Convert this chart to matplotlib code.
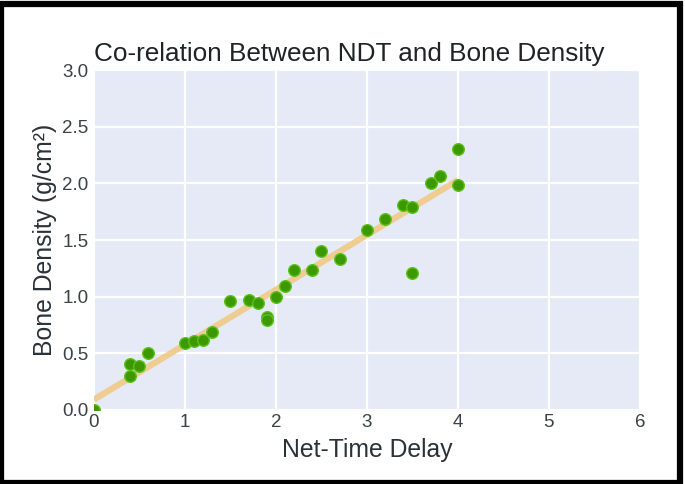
import numpy as np
import matplotlib
matplotlib.use("Agg")
import matplotlib.pyplot as plt
from matplotlib.patches import Rectangle

ndt = [0.0, 0.4, 0.4, 0.5, 0.6, 1.0, 1.1, 1.2, 1.3, 1.5, 1.7, 1.8, 1.9, 1.9,
       2.0, 2.1, 2.2, 2.4, 2.5, 2.7, 3.0, 3.2, 3.4, 3.5, 3.5, 3.7, 3.8, 4.0, 4.0]
density = [0.0, 0.41, 0.30, 0.39, 0.50, 0.59, 0.61, 0.62, 0.69, 0.96, 0.97, 0.94, 0.82, 0.79,
           1.00, 1.09, 1.24, 1.24, 1.40, 1.33, 1.59, 1.69, 1.81, 1.79, 1.21, 2.00, 2.07, 2.30, 1.99]
xticks = [0, 1, 2, 3, 4, 5, 6]
yticks = [0.0, 0.5, 1.0, 1.5, 2.0, 2.5, 3.0]

plt.rcParams['font.family'] = ['Liberation Sans', 'DejaVu Sans']

fig = plt.figure(figsize=(6.85, 4.84), dpi=100)
ax = fig.add_axes([0.137, 0.153, 0.797, 0.702])
ax.set_facecolor('#e5eaf6')

x = np.array(ndt)
y = np.array(density)
slope, intercept = np.polyfit(x, y, 1)
xl = np.array([x.min(), x.max()])
ax.plot(xl, slope * xl + intercept, color='#f0c987', lw=4.5, alpha=0.9, zorder=2,
        solid_capstyle='butt')
ax.scatter(x, y, s=70, color='#3c9a00', edgecolors='#5cc21a', linewidths=1.0, zorder=3)

ax.set_xlim(0, 6)
ax.set_ylim(0, 3)
ax.set_xticks(xticks)
ax.set_yticks(yticks)
ax.set_yticklabels([f"{v:.1f}" for v in yticks])
ax.grid(True, color='white', lw=1.6)
ax.set_axisbelow(True)
for s in ax.spines.values():
    s.set_visible(False)
ax.tick_params(length=0, labelsize=13.5, colors='#3a4246')
ax.tick_params(axis='y', pad=4)
ax.tick_params(axis='x', pad=3)
ax.set_xlabel('Net-Time Delay', fontsize=17.8, color='#2a3238', labelpad=5)
ax.set_ylabel('Bone Density (g/cm²)', fontsize=17.8, color='#2a3238', labelpad=3.4)
ax.set_title('Co-relation Between NDT and Bone Density', fontsize=18.8, color='#1e2326',
             pad=6.5, loc='left')

fig.patches.append(Rectangle((0.002, 0.002), 0.990, 0.990, transform=fig.transFigure,
                             fill=False, edgecolor='black', linewidth=4.5, zorder=10))

fig.savefig('out.png', dpi=100, facecolor='white')
